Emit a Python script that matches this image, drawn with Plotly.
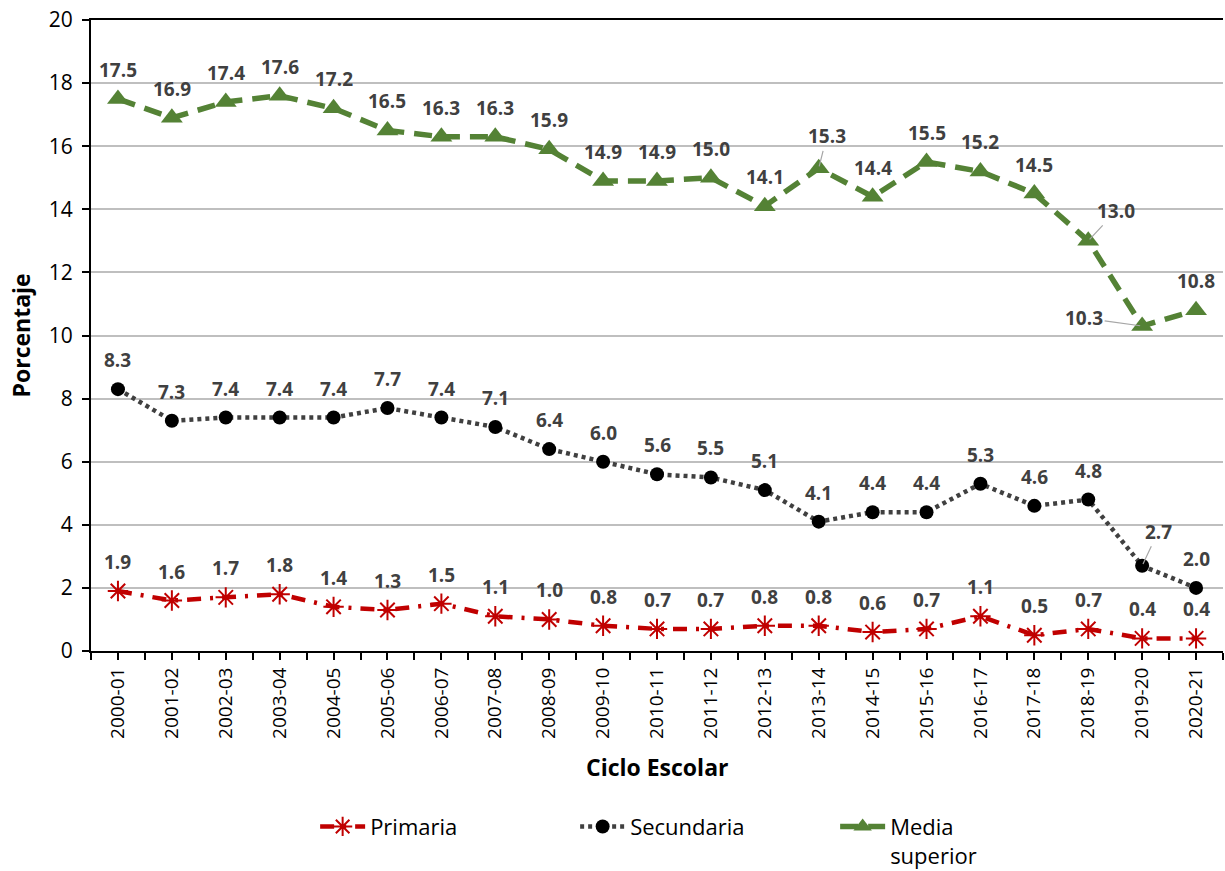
import plotly.graph_objects as go

ciclos = ["2000-01", "2001-02", "2002-03", "2003-04", "2004-05", "2005-06", "2006-07",
          "2007-08", "2008-09", "2009-10", "2010-11", "2011-12", "2012-13", "2013-14",
          "2014-15", "2015-16", "2016-17", "2017-18", "2018-19", "2019-20", "2020-21"]
primaria = [1.9, 1.6, 1.7, 1.8, 1.4, 1.3, 1.5, 1.1, 1.0, 0.8, 0.7, 0.7, 0.8, 0.8,
            0.6, 0.7, 1.1, 0.5, 0.7, 0.4, 0.4]
secundaria = [8.3, 7.3, 7.4, 7.4, 7.4, 7.7, 7.4, 7.1, 6.4, 6.0, 5.6, 5.5, 5.1, 4.1,
              4.4, 4.4, 5.3, 4.6, 4.8, 2.7, 2.0]
media_superior = [17.5, 16.9, 17.4, 17.6, 17.2, 16.5, 16.3, 16.3, 15.9, 14.9, 14.9, 15.0,
                  14.1, 15.3, 14.4, 15.5, 15.2, 14.5, 13.0, 10.3, 10.8]
y_ticks = [0, 2, 4, 6, 8, 10, 12, 14, 16, 18, 20]

FONT = "Open Sans"
LABEL_COLOR = "#404040"
x_idx = list(range(len(ciclos)))

fig = go.Figure()
fig.add_trace(go.Scatter(
    x=x_idx, y=primaria, name="Primaria", mode="lines+markers",
    line=dict(color="#C00000", width=4.5, dash="14px,9px,3px,9px"),
    marker=dict(symbol="asterisk-open", size=17, color="#C00000",
                line=dict(color="#C00000", width=2)),
))
fig.add_trace(go.Scatter(
    x=x_idx, y=secundaria, name="Secundaria", mode="lines+markers",
    line=dict(color="#404040", width=4.5, dash="4px,4px"),
    marker=dict(symbol="circle", size=14, color="black"),
))
fig.add_trace(go.Scatter(
    x=x_idx, y=media_superior, name="Media<br>superior", mode="lines+markers",
    line=dict(color="#548235", width=5.5, dash="18px,10px"),
    marker=dict(symbol="triangle-up", size=19, color="#548235"),
))

# Value labels; a few use a leader line pointing to the marker
callouts = {
    ("m", 13): (8, -32),
    ("m", 18): (28, -30),
    ("m", 19): (-58, -8),
    ("s", 19): (16, -34),
}
for key, series in (("p", primaria), ("s", secundaria), ("m", media_superior)):
    for i, v in enumerate(series):
        txt = f"{v:.1f}"
        if (key, i) in callouts:
            ax, ay = callouts[(key, i)]
            fig.add_annotation(
                x=i, y=v, text=f"<b>{txt}</b>", showarrow=True, arrowhead=0,
                arrowwidth=1.2, arrowcolor="#A6A6A6", ax=ax, ay=ay, standoff=2,
                font=dict(family=FONT, size=19, color=LABEL_COLOR),
            )
        else:
            fig.add_annotation(
                x=i, y=v, text=f"<b>{txt}</b>", showarrow=False, yshift=29,
                font=dict(family=FONT, size=19, color=LABEL_COLOR),
            )

# Axis titles
fig.add_annotation(x=0.5, y=0, xref="paper", yref="paper", yanchor="top",
                   yshift=-98, showarrow=False, text="<b>Ciclo Escolar</b>",
                   font=dict(family=FONT, size=23, color="black"))
fig.add_annotation(x=0, y=0.5, xref="paper", yref="paper", xanchor="center",
                   xshift=-71, showarrow=False, text="<b>Porcentaje</b>", textangle=-90,
                   font=dict(family=FONT, size=23, color="black"))

fig.update_layout(
    width=1225, height=871,
    margin=dict(l=91, r=2, t=20, b=220),
    paper_bgcolor="white", plot_bgcolor="white",
    font=dict(family=FONT, color="black"),
    showlegend=True,
    legend=dict(orientation="h", x=0.198, xanchor="left",
                yref="container", y=0.075, yanchor="top",
                font=dict(family=FONT, size=22), entrywidth=200, valign="top",
                itemwidth=45, tracegroupgap=0),
    xaxis=dict(
        range=[-0.5, len(ciclos) - 0.5], automargin=False,
        tickmode="array", tickvals=x_idx, ticktext=ciclos, tickangle=-90,
        tickfont=dict(family=FONT, size=19), ticks="outside", ticklen=7,
        tickcolor="black", tickwidth=2, showline=True, linecolor="black", linewidth=2,
        mirror=True, showgrid=False, zeroline=False,
        minor=dict(dtick=0.5, tick0=0.5, ticks="outside", ticklen=7, tickcolor="black",
                   tickwidth=2, showgrid=False),
    ),
    yaxis=dict(
        range=[0, 20], tickmode="array", tickvals=y_ticks, automargin=False,
        tickfont=dict(family=FONT, size=21), ticks="outside", ticklen=7,
        ticklabelstandoff=5,
        tickcolor="black", tickwidth=2, showline=True, linecolor="black", linewidth=2,
        showgrid=True, gridcolor="#BFBFBF", gridwidth=1.5, zeroline=False,
    ),
)

fig.write_html("out.html")
